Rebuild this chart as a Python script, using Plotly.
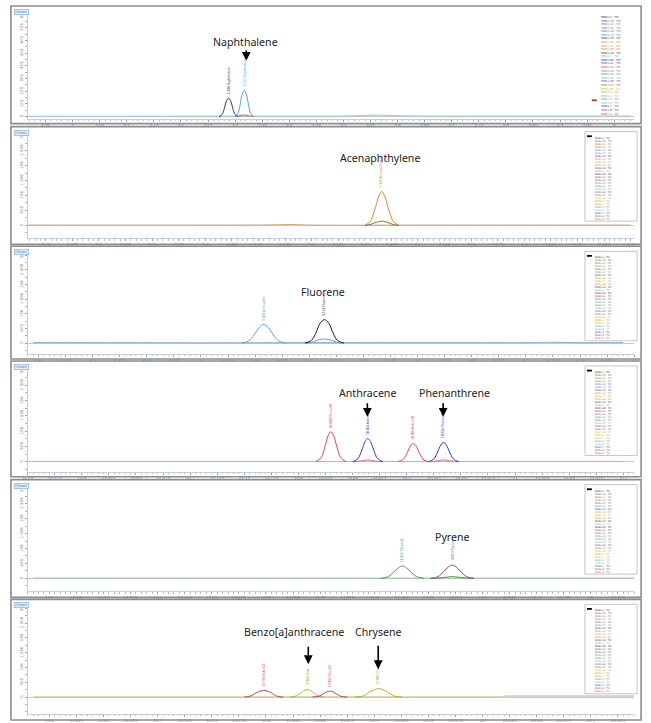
import plotly.graph_objects as go

W, H = 651, 723

# ---------------- data ----------------
legend_names = [
    "MSD1-1 : TIC", "MSD1-10 : TIC", "MSD1-11 : TIC", "MSD1-12 : TIC", "MSD1-13 : TIC",
    "MSD1-14 : TIC", "MSD1-15 : TIC", "MSD1-16 : TIC", "MSD1-17 : TIC", "MSD1-18 : TIC",
    "MSD1-19 : TIC", "MSD1-2 : TIC", "MSD1-20 : TIC", "MSD1-21 : TIC", "MSD1-22 : TIC",
    "MSD1-23 : TIC", "MSD1-24 : TIC", "MSD1-25 : TIC", "MSD1-26 : TIC", "MSD1-27 : TIC",
    "MSD1-28 : TIC", "MSD1-3 : TIC", "MSD1-4 : TIC", "MSD1-5 : TIC", "MSD1-6 : TIC",
    "MSD1-7 : TIC", "MSD1-8 : TIC", "MSD1-9 : TIC"]
legend_colors = [
    "#222222", "#3b4fc4", "#d2453a", "#3f9a4a", "#7a4fb0", "#2aa0a0", "#24339a", "#e08a2a",
    "#b8b020", "#e07a30", "#303030", "#5ab0e8", "#202020", "#3a3ac8", "#d03040", "#30a0a0",
    "#40a040", "#60b8e8", "#3050c0", "#a05a2a", "#c8b820", "#e0902a", "#e0a040", "#40a8a8",
    "#70b8e0", "#2040b0", "#8040a0", "#e04050"]

compound_titles = ["Naphthalene", "Acenaphthylene", "Fluorene",
                   "Anthracene", "Phenanthrene", "Pyrene",
                   "Benzo[a]anthracene", "Chrysene"]

# Panel 1 (Naphthalene)
p1_base_t = [4.92, 5.10, 5.26, 5.34, 5.50, 5.56, 5.62, 5.80, 6.03]
p1_base_i = [0.03, 0.03, 0.04, 0.04, 0.05, 0.12, 0.06, 0.05, 0.05]
p1_a_t = [5.270, 5.276, 5.280, 5.284, 5.288, 5.292, 5.296, 5.300, 5.306]
p1_a_i = [0.0, 0.18, 0.62, 1.22, 1.46, 1.22, 0.62, 0.18, 0.0]
p1_b_t = [5.299, 5.305, 5.309, 5.313, 5.317, 5.321, 5.325, 5.329, 5.335]
p1_b_i = [0.0, 0.25, 0.88, 1.74, 2.08, 1.74, 0.88, 0.25, 0.0]
p1_c_t = [5.301, 5.309, 5.317, 5.325, 5.333]
p1_c_i = [0.0, 0.08, 0.13, 0.08, 0.0]

# Panel 2 (Acenaphthylene)
p2_base_t = [7.134, 7.30, 7.36, 7.38, 7.40, 7.50, 7.70]
p2_base_i = [0.02, 0.02, 0.03, 0.06, 0.02, 0.02, 0.02]
p2_a_t = [7.450, 7.455, 7.459, 7.463, 7.466, 7.469, 7.473, 7.477, 7.482]
p2_a_i = [0.0, 0.25, 0.95, 1.90, 2.27, 1.90, 0.95, 0.25, 0.0]
p2_b_i = [0.0, 0.05, 0.16, 0.25, 0.28, 0.25, 0.16, 0.05, 0.0]

# Panel 3 (Fluorene)
p3_base_t = [8.845, 8.90, 9.00, 9.15, 9.30, 9.32, 9.35, 9.39]
p3_base_i = [0.03, 0.03, 0.02, 0.03, 0.03, 0.05, 0.03, 0.03]
p3_a_t = [9.038, 9.044, 9.049, 9.054, 9.058, 9.062, 9.067, 9.072, 9.078]
p3_a_i = [0.0, 0.14, 0.55, 1.07, 1.27, 1.07, 0.55, 0.14, 0.0]
p3_b_t = [9.096, 9.102, 9.106, 9.110, 9.114, 9.118, 9.122, 9.126, 9.132]
p3_b_i = [0.0, 0.18, 0.68, 1.35, 1.60, 1.35, 0.68, 0.18, 0.0]
p3_c_i = [0.0, 0.04, 0.15, 0.24, 0.27, 0.24, 0.15, 0.04, 0.0]

# Panel 4 (Anthracene / Phenanthrene)
p4_base_t = [10.555, 10.70, 10.80, 10.95, 11.05, 11.10]
p4_base_i = [0.02, 0.02, 0.02, 0.02, 0.02, 0.02]
p4_a_t = [10.816, 10.821, 10.8245, 10.8275, 10.830, 10.8325, 10.8355, 10.839, 10.844]
p4_a_i = [0.0, 0.27, 0.98, 1.71, 1.96, 1.71, 0.98, 0.27, 0.0]
p4_b_t = [10.850, 10.855, 10.8585, 10.8615, 10.864, 10.8665, 10.8695, 10.873, 10.878]
p4_b_i = [0.0, 0.21, 0.76, 1.32, 1.52, 1.32, 0.76, 0.21, 0.0]
p4_c_t = [10.892, 10.897, 10.9005, 10.9035, 10.906, 10.9085, 10.9115, 10.915, 10.920]
p4_c_i = [0.0, 0.17, 0.60, 1.04, 1.20, 1.04, 0.60, 0.17, 0.0]
p4_d_t = [10.920, 10.925, 10.9285, 10.9315, 10.934, 10.9365, 10.9395, 10.943, 10.948]
p4_d_i = [0.0, 0.18, 0.64, 1.10, 1.27, 1.10, 0.64, 0.18, 0.0]
p4_small_i = [0.0, 0.02, 0.06, 0.10, 0.12, 0.10, 0.06, 0.02, 0.0]

# Panel 5 (Pyrene)
p5_base_t = [14.485, 14.60, 14.75, 14.95, 15.00, 15.04]
p5_base_i = [0.02, 0.02, 0.02, 0.02, 0.02, 0.02]
p5_a_t = [14.806, 14.813, 14.818, 14.8225, 14.826, 14.8295, 14.834, 14.839, 14.846]
p5_a_i = [0.0, 0.12, 0.42, 0.72, 0.83, 0.72, 0.42, 0.12, 0.0]
p5_b_t = [14.852, 14.859, 14.864, 14.8685, 14.872, 14.8755, 14.880, 14.885, 14.892]
p5_b_i = [0.0, 0.12, 0.45, 0.77, 0.89, 0.77, 0.45, 0.12, 0.0]
p5_c_i = [0.0, 0.02, 0.06, 0.10, 0.12, 0.10, 0.06, 0.02, 0.0]

# Panel 6 (Benzo[a]anthracene / Chrysene)
p6_base_t = [19.585, 19.70, 19.80, 19.90, 20.0, 20.02]
p6_base_i = [0.02, 0.02, 0.02, 0.02, 0.02, 0.02]
p6_base2_t = [20.02, 20.08, 20.14]
p6_base2_i = [0.07, 0.07, 0.07]
p6_a_t = [19.780, 19.786, 19.790, 19.794, 19.798, 19.802, 19.806, 19.810, 19.816]
p6_a_i = [0.0, 0.07, 0.25, 0.39, 0.45, 0.39, 0.25, 0.07, 0.0]
p6_b_t = [19.822, 19.828, 19.832, 19.835, 19.838, 19.841, 19.844, 19.848, 19.854]
p6_b_i = [0.0, 0.08, 0.28, 0.44, 0.51, 0.44, 0.28, 0.08, 0.0]
p6_c_t = [19.843, 19.849, 19.853, 19.856, 19.859, 19.862, 19.865, 19.869, 19.875]
p6_c_i = [0.0, 0.06, 0.22, 0.35, 0.40, 0.35, 0.22, 0.06, 0.0]
p6_d_t = [19.882, 19.890, 19.895, 19.900, 19.904, 19.908, 19.913, 19.918, 19.926]
p6_d_i = [0.0, 0.08, 0.31, 0.50, 0.57, 0.50, 0.31, 0.08, 0.0]

# peak label texts
p1_labels = ["5.288 Naphthalene", "5.317 Naphthalene"]
p2_labels = ["7.466 Acenaphthylene"]
p3_labels = ["9.058 Acenaphth.", "9.114 Fluorene"]
p4_labels = ["10.830 Phen-d10", "10.864 Anthracene", "10.906 Anth-d10", "10.934 Phenanthr."]
p5_labels = ["14.826 Fluoranth.", "14.872 Pyrene"]
p6_labels = ["19.798 BaA-d12", "19.838 BaA", "19.859 Chr-d12", "19.904 Chrysene"]

y_ticktext8 = ["0", "1E5", "2E5", "3E5", "4E5", "5E5", "6E5", "7E5", "8E5"]
y_ticktext6 = ["0", "5E5", "1E6", "1.5E6", "2E6", "2.5E6", "3E6"]

# ---------------- layout config ----------------
panels = [
    dict(box=(4, 122), top=10, axis=117, base=115, nt=8, x0=4.917, ppm=550, tick0=4.95, dtick=0.05),
    dict(box=(125, 243), top=131, axis=237, base=224, nt=6, x0=7.133, ppm=1080, tick0=7.15, dtick=0.025),
    dict(box=(245, 358), top=251, axis=353, base=342, nt=6, x0=8.84, ppm=1100, tick0=8.85, dtick=0.025),
    dict(box=(360, 476), top=366, axis=471, base=461, nt=6, x0=10.55, ppm=1100, tick0=10.575, dtick=0.025),
    dict(box=(479, 597), top=485, axis=591, base=578, nt=6, x0=14.48, ppm=1100, tick0=14.5, dtick=0.025),
    dict(box=(599, 720), top=605, axis=714, base=697, nt=6, x0=19.58, ppm=1100, tick0=19.6, dtick=0.025),
]
PX_L, PX_R = 22, 638

fig = go.Figure()


def ax_names(i):
    return ("x" if i == 0 else f"x{i+1}"), ("y" if i == 0 else f"y{i+1}")


def line(i, t, y, color, width=1.0):
    xa, ya = ax_names(i)
    fig.add_trace(go.Scatter(x=t, y=y, mode="lines", xaxis=xa, yaxis=ya,
                             line=dict(color=color, width=width, shape="spline", smoothing=1.0),
                             showlegend=False, hoverinfo="skip"))


# panel 1
line(0, p1_base_t, p1_base_i, "#8ec8ea")
line(0, p1_a_t, p1_a_i, "#3a3a3a")
line(0, p1_b_t, p1_b_i, "#3fa6e0")
line(0, p1_c_t, p1_c_i, "#b07040")
# panel 2
line(1, p2_base_t, p2_base_i, "#d8a070")
line(1, p2_a_t, p2_b_i, "#a0602d")
line(1, p2_a_t, p2_a_i, "#d98a3a")
# panel 3
line(2, p3_base_t, p3_base_i, "#8aa8d8")
line(2, p3_a_t, p3_a_i, "#5aa0d8")
line(2, p3_b_t, p3_c_i, "#5aa0d8")
line(2, p3_b_t, p3_b_i, "#1e1e1e")
# panel 4
line(3, p4_base_t, p4_base_i, "#e8a0a8")
line(3, p4_a_t, p4_a_i, "#e0405a")
line(3, p4_b_t, p4_small_i, "#e07080")
line(3, p4_b_t, p4_b_i, "#3636c8")
line(3, p4_c_t, p4_c_i, "#e0405a")
line(3, p4_d_t, p4_small_i, "#e07080")
line(3, p4_d_t, p4_d_i, "#3636c8")
# panel 5
line(4, p5_base_t, p5_base_i, "#9ac89a")
line(4, p5_a_t, p5_a_i, "#4a9a4a")
line(4, p5_b_t, p5_c_i, "#4a9a4a")
line(4, p5_b_t, p5_b_i, "#9a3a8a")
# panel 6
line(5, p6_base_t, p6_base_i, "#d8c890")
line(5, p6_base2_t, p6_base2_i, "#b0b0b0")
line(5, p6_a_t, p6_a_i, "#d04050")
line(5, p6_b_t, p6_b_i, "#b8b030")
line(5, p6_c_t, p6_c_i, "#c04070")
line(5, p6_d_t, p6_d_i, "#b8b030")

annotations = []
shapes = []
layout = dict(width=W, height=H, margin=dict(l=0, r=0, t=0, b=0),
              paper_bgcolor="white", plot_bgcolor="white", showlegend=False)

for i, p in enumerate(panels):
    k = (p["base"] - (p["top"] + 3)) / p["nt"]
    ymax = (p["base"] - p["top"]) / k
    ymin = -(p["axis"] - p["base"]) / k
    x1 = p["x0"] + (PX_R - PX_L) / p["ppm"]
    xa, ya = ax_names(i)
    xkey = "xaxis" if i == 0 else f"xaxis{i+1}"
    ykey = "yaxis" if i == 0 else f"yaxis{i+1}"
    layout[xkey] = dict(domain=[PX_L / W, PX_R / W], anchor=ya, range=[p["x0"], x1],
                        tick0=p["tick0"], dtick=p["dtick"], showgrid=False, zeroline=False,
                        showline=True, linecolor="#c4cede", linewidth=1,
                        ticks="outside", ticklen=2, tickcolor="#8ea4c4", tickwidth=0.8,
                        tickfont=dict(size=4, color="#6f88aa", family="DejaVu Sans"),
                        minor=dict(dtick=p["dtick"] / 5, ticks="outside", ticklen=1.2,
                                   tickcolor="#aabbd4", tickwidth=0.6),
                        fixedrange=True)
    tt = y_ticktext8 if p["nt"] == 8 else y_ticktext6
    layout[ykey] = dict(domain=[1 - p["axis"] / H, 1 - p["top"] / H], anchor=xa,
                        range=[ymin, ymax], tickvals=list(range(p["nt"] + 1)), ticktext=tt,
                        tickangle=-90, showgrid=False, zeroline=True, zerolinecolor="#c8c8c8",
                        zerolinewidth=1, showline=True, linecolor="#c4cede", linewidth=1,
                        ticks="outside", ticklen=2, tickcolor="#8ea4c4", tickwidth=0.8,
                        tickfont=dict(size=4, color="#6f88aa", family="DejaVu Sans"),
                        minor=dict(dtick=0.5, ticks="outside", ticklen=1.2,
                                   tickcolor="#aabbd4", tickwidth=0.6),
                        fixedrange=True)
    # panel frame
    shapes.append(dict(type="rect", xref="paper", yref="paper", x0=5 / W, x1=645 / W,
                       y0=1 - p["box"][1] / H, y1=1 - p["box"][0] / H,
                       line=dict(color="#8c8c8c", width=1.6), layer="above"))
    # Chrom tag
    annotations.append(dict(x=8 / W, y=1 - (p["box"][0] + 3) / H, xref="paper", yref="paper",
                            xanchor="left", yanchor="top", showarrow=False, text="Chrom",
                            font=dict(size=3.5, color="#3a6aa8", family="DejaVu Sans"),
                            bgcolor="#e6f0fa", bordercolor="#7aaad8", borderwidth=0.6, borderpad=0.6))
    # legend block
    if i == 0:
        fs, lx, ly = 2.75, 602, 11
    else:
        fs, lx, ly = 2.3, 596, p["box"][0] + 8
        shapes.append(dict(type="rect", xref="paper", yref="paper", x0=588 / W, x1=641 / W,
                           y0=1 - (ly + 28 * fs * 1.3 + 3) / H, y1=1 - (ly - 3) / H,
                           line=dict(color="#b8b8b8", width=0.8), fillcolor="white", layer="above"))
        shapes.append(dict(type="line", xref="paper", yref="paper", x0=590 / W, x1=595 / W,
                           y0=1 - (ly + 1.6) / H, y1=1 - (ly + 1.6) / H,
                           line=dict(color="black", width=1.8), layer="above"))
    txt = "<br>".join(f"<span style='color:{c}'>{n}</span>"
                      for n, c in zip(legend_names, legend_colors))
    annotations.append(dict(x=lx / W, y=1 - ly / H, xref="paper", yref="paper",
                            xanchor="left", yanchor="top", align="left", showarrow=False,
                            text=txt, font=dict(size=fs, family="DejaVu Sans")))
    if i == 0:
        shapes.append(dict(type="line", xref="paper", yref="paper", x0=595 / W, x1=600 / W,
                           y0=1 - (ly + 24.5 * fs * 1.3) / H, y1=1 - (ly + 24.5 * fs * 1.3) / H,
                           line=dict(color="#a0401a", width=1.8), layer="above"))

# peak labels
peak_label_sets = [
    (0, [(p1_a_t[4], p1_a_i[4], "#3a3a3a"), (p1_b_t[4], p1_b_i[4], "#3fa6e0")], p1_labels),
    (1, [(p2_a_t[4], p2_a_i[4], "#d98a3a")], p2_labels),
    (2, [(p3_a_t[4], p3_a_i[4], "#5aa0d8"), (p3_b_t[4], p3_b_i[4], "#1e1e1e")], p3_labels),
    (3, [(p4_a_t[4], p4_a_i[4], "#e0405a"), (p4_b_t[4], p4_b_i[4], "#3636c8"),
         (p4_c_t[4], p4_c_i[4], "#e0405a"), (p4_d_t[4], p4_d_i[4], "#3636c8")], p4_labels),
    (4, [(p5_a_t[4], p5_a_i[4], "#4a9a4a"), (p5_b_t[4], p5_b_i[4], "#9a3a8a")], p5_labels),
    (5, [(p6_a_t[4], p6_a_i[4], "#d04050"), (p6_b_t[4], p6_b_i[4], "#a8a020"),
         (p6_c_t[4], p6_c_i[4], "#c04070"), (p6_d_t[4], p6_d_i[4], "#a8a020")], p6_labels),
]
for i, pts, labs in peak_label_sets:
    xa, ya = ax_names(i)
    for (t, v, c), lab in zip(pts, labs):
        annotations.append(dict(x=t, y=v, xref=xa, yref=ya, xanchor="center", yanchor="bottom",
                                yshift=2, textangle=-90, showarrow=False, text=lab,
                                font=dict(size=3.2, color=c, family="Liberation Sans")))

# compound titles (pixel positions)
title_pos = [(243, 40), (380, 156), (322, 291), (367, 392), (455, 392), (453, 536),
             (293, 632), (378, 632)]
for name, (x, y) in zip(compound_titles, title_pos):
    annotations.append(dict(x=x / W, y=1 - y / H, xref="paper", yref="paper",
                            xanchor="center", yanchor="middle", showarrow=False, text=name,
                            font=dict(size=10.6, color="#222222", family="Noto Sans")))

# arrows (tip x, tip y, tail y)
arrows = [(244, 59, 47), (367, 416, 401), (444, 416, 401), (307, 664, 645), (378, 669, 644)]
for x, ty, tl in arrows:
    annotations.append(dict(x=x / W, y=1 - ty / H, xref="paper", yref="paper", text="",
                            showarrow=True, ax=0, ay=tl - ty, arrowhead=2, arrowsize=1.1,
                            arrowwidth=1.6, arrowcolor="black", standoff=0))

layout["annotations"] = annotations
layout["shapes"] = shapes
fig.update_layout(**layout)
fig.write_html("out.html")
